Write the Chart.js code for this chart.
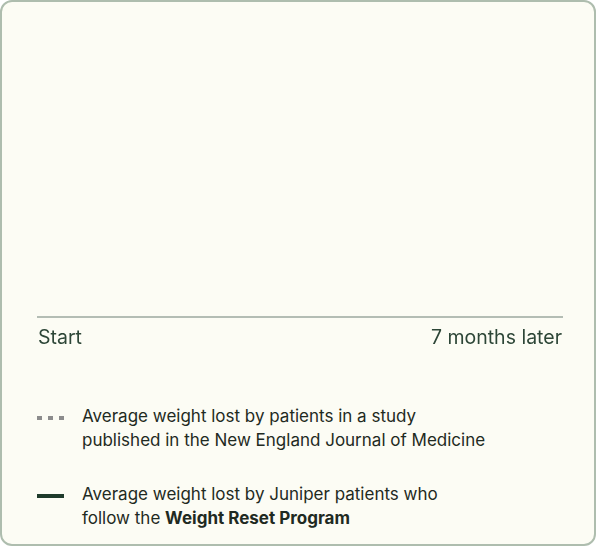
<!DOCTYPE html>
<html>
<head>
    <title>Weight lost chart</title>
    <style>
        body {
            margin: 0;
            padding: 0;
            background: #ffffff;
        }

        .card {
            position: relative;
            width: 596px;
            height: 546px;
            box-sizing: border-box;
            border: 2px solid #aebdae;
            border-radius: 12px;
            background: #fcfcf4;
            font-family: "Inter", sans-serif;
            color: #1f2a22;
            overflow: hidden;
        }

        .chart-wrap {
            position: absolute;
            left: 26px;
            top: 28px;
            width: 544px;
            height: 330px;
        }

        .legend {
            position: absolute;
            left: 35px;
            top: 402px;
            font-size: 17px;
            line-height: 24px;
        }

        .legend .item {
            position: relative;
            padding-left: 45px;
            margin-bottom: 30px;
        }

        .legend .mark {
            position: absolute;
            left: 0;
            top: 12px;
            width: 27px;
            height: 4px;
        }

        .mark.dots {
            background: repeating-linear-gradient(90deg, #8c8c8c 0 5px, transparent 5px 11px);
        }

        .mark.solid {
            background: #1f3b2b;
        }
    </style>
</head>
<body>
    <div class="card">
        <div class="chart-wrap"><canvas id="chart"></canvas></div>
        <div class="legend">
            <div class="item"><span class="mark dots"></span>Average weight lost by patients in a study<br>published in the New England Journal of Medicine</div>
            <div class="item"><span class="mark solid"></span>Average weight lost by Juniper patients who<br>follow the <b>Weight Reset Program</b></div>
        </div>
    </div>
    <script src="https://cdn.jsdelivr.net/npm/chart.js"></script>
    <script>
        // months since start, only first and last get a label
        var months = [0, 1, 2, 3, 4, 5, 6, 7];
        var tickLabels = ['Start', '', '', '', '', '', '', '7 months later'];

        // lines are not drawn yet in the picture, so no values show
        var studyLoss = [null, null, null, null, null, null, null, null];
        var juniperLoss = [null, null, null, null, null, null, null, null];

        var chart = new Chart(document.getElementById('chart'), {
            type: 'line',
            data: {
                labels: months,
                datasets: [{
                    label: 'Average weight lost by patients in a study published in the New England Journal of Medicine',
                    data: studyLoss,
                    borderColor: '#8c8c8c',
                    borderDash: [5, 5],
                    borderWidth: 4,
                    pointRadius: 0
                }, {
                    label: 'Average weight lost by Juniper patients who follow the Weight Reset Program',
                    data: juniperLoss,
                    borderColor: '#1f3b2b',
                    borderWidth: 4,
                    pointRadius: 0
                }]
            },
            options: {
                responsive: true,
                maintainAspectRatio: false,
                animation: false,
                layout: { padding: 0 },
                plugins: {
                    legend: { display: false },
                    tooltip: { enabled: false }
                },
                scales: {
                    x: {
                        grid: { display: false, drawTicks: false },
                        border: { display: true, color: '#b4bdb4', width: 2 },
                        ticks: {
                            autoSkip: false,
                            maxRotation: 0,
                            align: 'inner',
                            padding: 10,
                            color: '#2d4637',
                            font: { family: 'Inter', size: 19.5 },
                            callback: function(value, index) {
                                return tickLabels[index];
                            }
                        }
                    },
                    y: {
                        display: false,
                        min: 0,
                        max: 10
                    }
                }
            }
        });
    </script>
</body>
</html>
